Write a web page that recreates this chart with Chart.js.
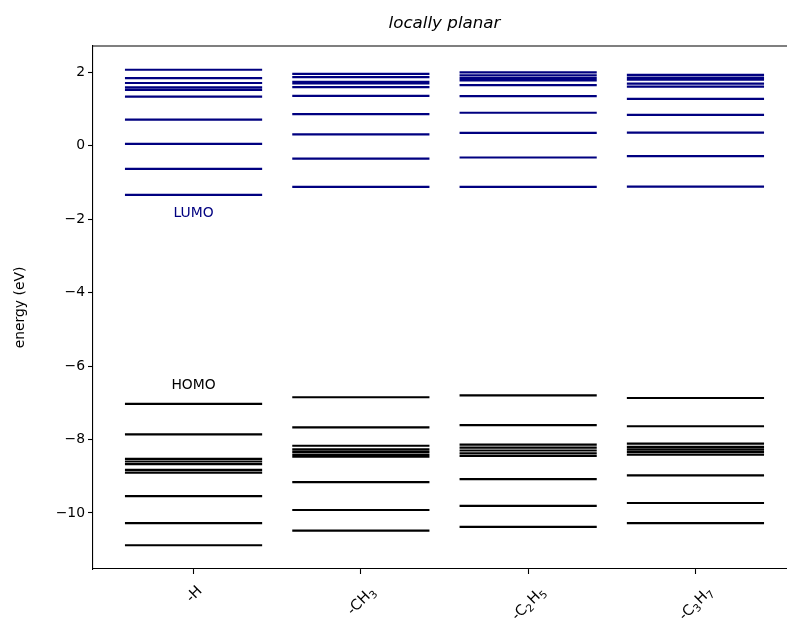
<!DOCTYPE html>
<html>
<head>
<meta charset="utf-8">
<script src="https://cdn.jsdelivr.net/npm/chart.js@4"></script>
<style>
html, body { margin: 0; padding: 0; overflow: hidden; background: #fff; }
canvas { display: block; }
</style>
</head>
<body>
<canvas id="chart" width="800" height="630"></canvas>
<script>
// substituents, '_' marks a subscript digit
const categories = ['-H', '-CH_3', '-C_2H_5', '-C_3H_7']

// unoccupied levels (LUMO and above), eV
const unoccupied = [
    [2.07, 1.84, 1.71, 1.59, 1.52, 1.34, 0.71, 0.05, -0.63, -1.34],
    [1.96, 1.87, 1.74, 1.70, 1.60, 1.36, 0.86, 0.31, -0.35, -1.12],
    [2.00, 1.92, 1.84, 1.78, 1.65, 1.35, 0.90, 0.35, -0.32, -1.12],
    [1.93, 1.86, 1.80, 1.69, 1.61, 1.28, 0.84, 0.36, -0.28, -1.11]
]

// occupied levels (HOMO and below), eV
const occupied = [
    [-7.03, -7.86, -8.53, -8.60, -8.67, -8.83, -8.90, -9.54, -10.28, -10.88],
    [-6.85, -7.67, -8.17, -8.27, -8.34, -8.41, -8.47, -9.16, -9.92, -10.48],
    [-6.80, -7.61, -8.14, -8.22, -8.30, -8.38, -8.45, -9.08, -9.81, -10.38],
    [-6.87, -7.64, -8.11, -8.20, -8.27, -8.34, -8.41, -8.98, -9.73, -10.28]
]

const yTicks = [-10, -8, -6, -4, -2, 0, 2]
const chartTitle = 'locally planar'
const yTitle = 'energy (eV)'

const HALF = 0.41
const FONT = '"DejaVu Sans", sans-serif'
const NAVY = '#000080'

function levelPoints(i, levels) {
    const pts = []
    for (const e of levels) {
        pts.push({x: i - HALF, y: e}, {x: i + HALF, y: e}, {x: i, y: null})
    }
    return pts
}

const datasets = []
categories.forEach((c, i) => {
    datasets.push({data: levelPoints(i, unoccupied[i]), borderColor: NAVY})
    datasets.push({data: levelPoints(i, occupied[i]), borderColor: '#000'})
})
for (const d of datasets) {
    d.borderWidth = 2.2
    d.borderCapStyle = 'butt'
    d.pointRadius = 0
    d.spanGaps = false
    d.tension = 0
}

// matplotlib-like 5% margins
const allE = unoccupied.flat().concat(occupied.flat())
const eMin = Math.min(...allE), eMax = Math.max(...allE)
const yPad = (eMax - eMin) * 0.05
const xPad = (categories.length - 1 + 2 * HALF) * 0.05

const decorations = {
    id: 'decorations',
    afterDraw(chart) {
        const ctx = chart.ctx
        const area = chart.chartArea
        const xs = chart.scales.x
        const ys = chart.scales.y
        ctx.save()

        // top and right spines
        ctx.strokeStyle = '#000'
        ctx.lineWidth = 1.1
        ctx.beginPath()
        ctx.moveTo(area.left, area.top)
        ctx.lineTo(area.right, area.top)
        ctx.lineTo(area.right, area.bottom)
        ctx.stroke()

        // title
        ctx.fillStyle = '#000'
        ctx.font = 'italic 16.7px ' + FONT
        ctx.textAlign = 'center'
        ctx.textBaseline = 'alphabetic'
        ctx.fillText(chartTitle, (area.left + area.right) / 2, 28)

        // y axis title
        ctx.save()
        ctx.translate(20, (area.top + area.bottom) / 2)
        ctx.rotate(-Math.PI / 2)
        ctx.font = '13.9px ' + FONT
        ctx.textBaseline = 'middle'
        ctx.fillText(yTitle, 0, 0)
        ctx.restore()

        // rotated category labels with subscripts
        categories.forEach((label, i) => {
            const parts = label.split(/_(\d)/)
            const runs = parts.map((t, k) => ({t, sub: k % 2 === 1})).filter(r => r.t)
            let w = 0
            for (const r of runs) {
                ctx.font = (r.sub ? '10.5px ' : '14.5px ') + FONT
                r.w = ctx.measureText(r.t).width + (r.sub ? 1 : 0)
                w += r.w
            }
            const h = 14.5
            const bh = (w + h) * Math.SQRT1_2
            ctx.save()
            ctx.translate(xs.getPixelForValue(i), area.bottom + 14 + bh / 2)
            ctx.rotate(-Math.PI / 4)
            ctx.textAlign = 'left'
            ctx.textBaseline = 'alphabetic'
            let x = -w / 2
            for (const r of runs) {
                ctx.font = (r.sub ? '10.5px ' : '14.5px ') + FONT
                ctx.fillText(r.t, x, r.sub ? 8.5 : 5)
                x += r.w
            }
            ctx.restore()
        })

        // HOMO / LUMO labels for the first column
        ctx.font = '13.9px ' + FONT
        ctx.textAlign = 'center'
        ctx.textBaseline = 'middle'
        const x0 = xs.getPixelForValue(0)
        ctx.fillStyle = NAVY
        ctx.fillText('LUMO', x0, ys.getPixelForValue(Math.min(...unoccupied[0]) - 0.5))
        ctx.fillStyle = '#000'
        ctx.fillText('HOMO', x0, ys.getPixelForValue(Math.max(...occupied[0]) + 0.5))

        ctx.restore()
    }
}

const axisGrid = {drawOnChartArea: false, drawTicks: true, tickLength: 5, tickColor: '#000', tickWidth: 1.1}
const axisBorder = {color: '#000', width: 1.1}

new Chart(document.getElementById('chart'), {
    type: 'line',
    data: {datasets},
    options: {
        responsive: false,
        animation: false,
        // canvas is a bit wider than the window: the right spine falls outside the picture
        layout: {padding: {top: 46, right: 4, left: 0, bottom: 0}},
        plugins: {legend: {display: false}, tooltip: {enabled: false}},
        scales: {
            x: {
                type: 'linear',
                min: -HALF - xPad,
                max: categories.length - 1 + HALF + xPad,
                afterBuildTicks: s => { s.ticks = categories.map((c, i) => ({value: i})) },
                afterFit: s => { s.height = 61 },
                ticks: {display: false},
                grid: axisGrid,
                border: axisBorder
            },
            y: {
                type: 'linear',
                min: eMin - yPad,
                max: eMax + yPad,
                afterBuildTicks: s => { s.ticks = yTicks.map(v => ({value: v})) },
                afterFit: s => { s.width = 93 },
                ticks: {
                    color: '#000',
                    padding: 3,
                    font: {family: FONT, size: 13.9},
                    callback: v => String(v).replace('-', '\u2212')
                },
                grid: axisGrid,
                border: axisBorder
            }
        }
    },
    plugins: [decorations]
})
</script>
</body>
</html>
